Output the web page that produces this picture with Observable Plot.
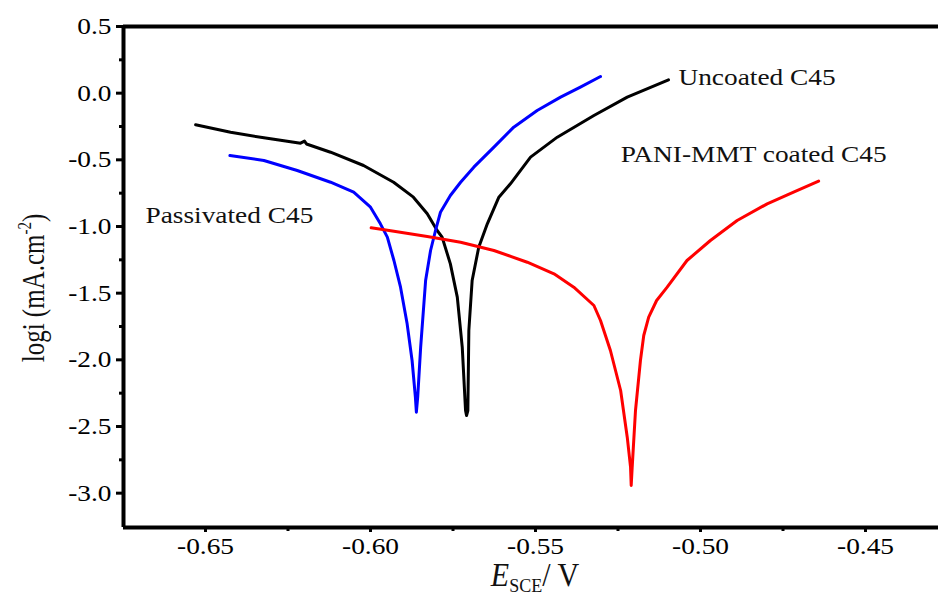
<!DOCTYPE html>
<html><head><meta charset="utf-8">
<script src="https://cdn.jsdelivr.net/npm/d3@7"></script>
<script src="https://cdn.jsdelivr.net/npm/@observablehq/plot@0.6"></script>
<style>html,body{margin:0;padding:0;background:#fff;overflow:hidden}</style>
</head><body><div id="chart"></div>
<script>
// Uncoated C45 (black)
const uncoatedE = [-0.653, -0.6424, -0.6323, -0.6212, -0.6200, -0.6194, -0.6121, -0.6021, -0.5930, -0.5870, -0.5828, -0.5798, -0.5783, -0.5758, -0.5737, -0.5722, -0.5712, -0.5709, -0.5705, -0.5702, -0.5692, -0.5672, -0.5646, -0.5611, -0.5576, -0.5515, -0.5434, -0.5323, -0.5222, -0.5097];
const uncoatedLogI = [-0.237, -0.293, -0.335, -0.375, -0.360, -0.381, -0.443, -0.5425, -0.668, -0.780, -0.905, -1.030, -1.080, -1.280, -1.530, -1.905, -2.380, -2.418, -2.380, -1.780, -1.405, -1.155, -0.980, -0.780, -0.680, -0.480, -0.330, -0.1675, -0.030, 0.100];
// Passivated C45 (blue)
const passivatedE = [-0.6426, -0.6323, -0.6222, -0.6121, -0.6051, -0.6000, -0.5970, -0.5949, -0.5929, -0.5909, -0.5889, -0.5874, -0.5864, -0.5861, -0.5857, -0.5848, -0.5833, -0.5818, -0.5803, -0.5788, -0.5758, -0.5727, -0.5687, -0.5626, -0.5566, -0.5495, -0.5424, -0.5364, -0.5303];
const passivatedLogI = [-0.4675, -0.505, -0.58, -0.668, -0.743, -0.855, -0.98, -1.08, -1.255, -1.455, -1.73, -2.005, -2.28, -2.393, -2.28, -1.905, -1.405, -1.18, -1.03, -0.893, -0.7675, -0.668, -0.555, -0.405, -0.255, -0.13, -0.03, 0.045, 0.125];
// PANI-MMT coated C45 (red)
const paniE = [-0.5998, -0.5929, -0.5828, -0.5727, -0.5626, -0.5525, -0.5444, -0.5384, -0.5323, -0.5303, -0.5273, -0.5242, -0.5222, -0.5212, -0.5210, -0.5207, -0.5197, -0.5182, -0.5172, -0.5157, -0.5133, -0.5101, -0.5041, -0.4970, -0.4889, -0.4798, -0.4718, -0.4642];
const paniLogI = [-1.01, -1.035, -1.075, -1.118, -1.18, -1.268, -1.355, -1.455, -1.5925, -1.705, -1.93, -2.23, -2.58, -2.805, -2.9425, -2.805, -2.38, -2.005, -1.8175, -1.68, -1.555, -1.455, -1.255, -1.105, -0.955, -0.83, -0.743, -0.66];

const seriesNames = ["Uncoated C45", "Passivated C45", "PANI-MMT coated C45"];
const seriesColors = ["#000000", "#0000ff", "#ff0000"];
const labelE = [-0.5067, -0.6682, -0.5242];
const labelLogI = [0.065, -0.974, -0.516];
const labelText = ["Uncoated C45", "Passivated C45", "PANI-MMT coated C45"];

const xDomain = [-0.67485, -0.42788];
const yDomain = [-3.2575, 0.5];
const xTicks = [-0.65, -0.60, -0.55, -0.50, -0.45];
const xMinorTicks = [-0.625, -0.575, -0.525, -0.475];
const yTicks = [0.5, 0.0, -0.5, -1.0, -1.5, -2.0, -2.5, -3.0];
const yMinorTicks = [0.25, -0.25, -0.75, -1.25, -1.75, -2.25, -2.75];
const xLabelMain = "E", xLabelSub = "SCE", xLabelTail = "/ V";
const yLabelMain = "logi (mA.cm", yLabelSup = "-2", yLabelTail = ")";

const toRows = (E, L, s) => E.map((e, i) => ({E: e, logi: L[i], series: s}));
const rows = [
  ...toRows(uncoatedE, uncoatedLogI, seriesNames[0]),
  ...toRows(passivatedE, passivatedLogI, seriesNames[1]),
  ...toRows(paniE, paniLogI, seriesNames[2])
];
const labels = labelText.map((t, i) => ({E: labelE[i], logi: labelLogI[i], text: t}));

const FONT = "'Liberation Serif', 'Times New Roman', serif";
const chart = Plot.plot({
  width: 938, height: 597,
  marginLeft: 123, marginRight: 0, marginTop: 26, marginBottom: 70,
  x: {domain: xDomain, label: null},
  y: {domain: yDomain, label: null},
  color: {domain: seriesNames, range: seriesColors},
  style: {fontFamily: FONT, fontSize: "23px", color: "#000", background: "#fff"},
  marks: [
    Plot.axisX(xTicks, {tickSize: 5, tickPadding: 5, strokeWidth: 3, tickFormat: d => d.toFixed(2), label: null}),
    Plot.axisX(xMinorTicks, {tickSize: 4, strokeWidth: 3, tickFormat: () => "", label: null}),
    Plot.axisY(yTicks, {tickSize: 7, tickPadding: 5, strokeWidth: 3, tickFormat: d => d.toFixed(1), label: null}),
    Plot.axisY(yMinorTicks, {tickSize: 4, strokeWidth: 3, tickFormat: () => "", label: null}),
    Plot.line(rows, {x: "E", y: "logi", z: "series", stroke: "series", strokeWidth: 3}),
    Plot.ruleY([yDomain[1]], {stroke: "#000", strokeWidth: 4}),
    Plot.ruleY([yDomain[0]], {stroke: "#000", strokeWidth: 4}),
    Plot.ruleX([xDomain[0]], {stroke: "#000", strokeWidth: 4}),
    Plot.text(labels, {x: "E", y: "logi", text: "text", textAnchor: "start", lineAnchor: "bottom", fontSize: 23, fill: "#111"})
  ]
});
document.getElementById("chart").appendChild(chart);

// Stretch text horizontally as in the reference
const SX = 1.19;
chart.querySelectorAll("text").forEach(t => {
  const xa = t.getAttribute("x");
  let pre = t.getAttribute("transform") || "";
  if (xa != null && !isNaN(+xa)) { pre += ` translate(${+xa},0)`; t.removeAttribute("x"); }
  t.setAttribute("transform", `${pre} scale(${SX},1)`);
});

const svg = d3.select(chart);
// x-axis title
const xt = svg.append("text")
  .attr("transform", "translate(535,586) scale(1,1.1)")
  .attr("text-anchor", "middle").attr("font-size", 30).attr("font-family", FONT).attr("fill", "#111");
xt.append("tspan").attr("font-style", "italic").text(xLabelMain);
xt.append("tspan").attr("font-size", 18).attr("dy", 5).text(xLabelSub);
xt.append("tspan").attr("dy", -5).text(xLabelTail);
// y-axis title
const yt = svg.append("text")
  .attr("transform", "translate(44,288) rotate(-90) scale(1,1.3)")
  .attr("text-anchor", "middle").attr("font-size", 25).attr("font-family", FONT).attr("fill", "#111");
yt.append("tspan").text(yLabelMain);
yt.append("tspan").attr("font-size", 15).attr("dy", -10).text(yLabelSup);
yt.append("tspan").attr("dy", 10).text(yLabelTail);
</script>
</body></html>
